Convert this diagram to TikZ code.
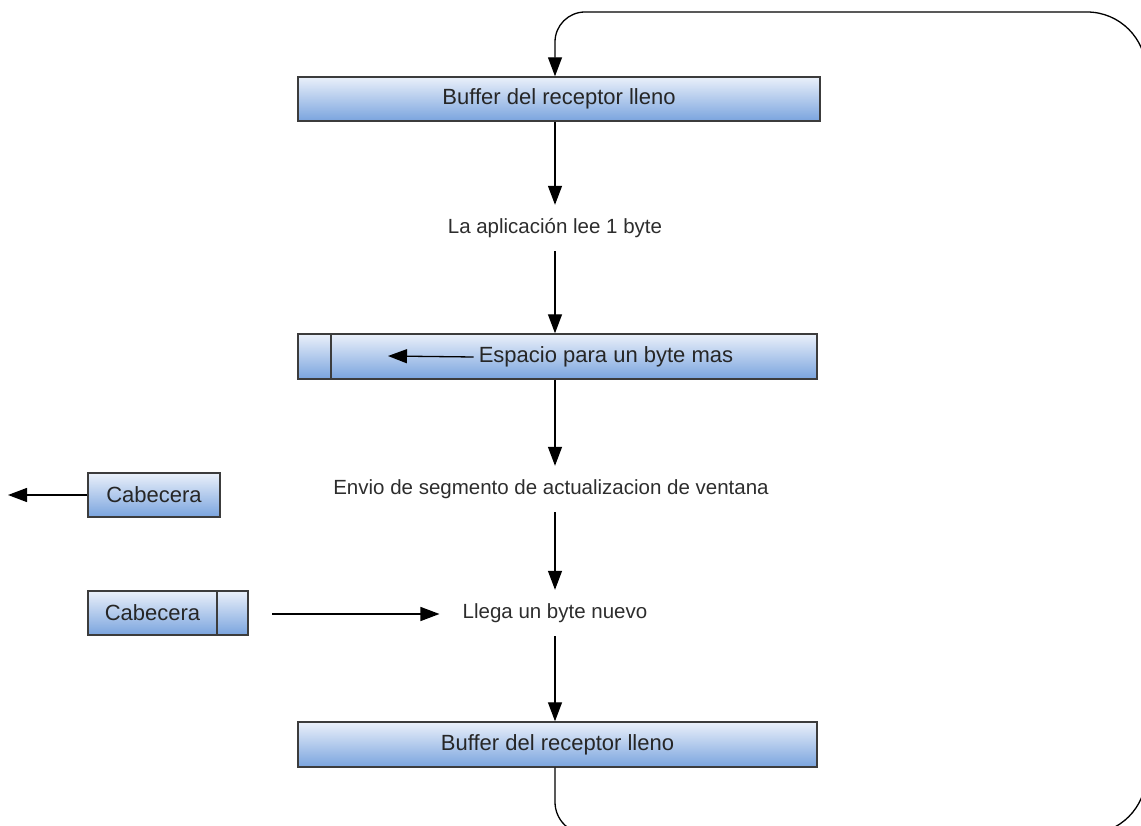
\documentclass[tikz,border=0pt]{standalone}
\usepackage{fontspec}
\setmainfont{Liberation Sans}
\usetikzlibrary{arrows.meta,calc}

\definecolor{boxtop}{RGB}{234,240,250}
\definecolor{boxbot}{RGB}{122,164,222}
\definecolor{boxline}{RGB}{60,60,60}
\definecolor{lbl}{RGB}{45,45,45}

\tikzset{
  bufbox/.style={draw=boxline, line width=1.4pt, top color=boxtop, bottom color=boxbot,
    minimum height=44pt, inner sep=0pt, font=\fontsize{22pt}{24pt}\selectfont, text=black!85},
  steplabel/.style={inner sep=0pt, minimum height=46pt, text=lbl,
    font=\fontsize{20.5pt}{22pt}\selectfont},
  flow/.style={line width=1.3pt, -{Triangle[length=19pt,width=14pt]}},
  loopline/.style={line width=1.3pt}
}

\begin{document}
\begin{tikzpicture}[x=1pt,y=-1pt]
\useasboundingbox (0,0) rectangle (1141,826);

% main column
\node[bufbox, minimum width=522pt] (b1) at (559,99) {Buffer del receptor lleno};
\node[steplabel] (l1) at (555,228) {La aplicación lee 1 byte};

\node[bufbox, minimum width=33pt, minimum height=45pt] (b2a) at (314.5,356.5) {};
\node[bufbox, minimum width=486pt, minimum height=45pt] (b2b) at (574,356.5) {};
\node[inner sep=0pt, font=\fontsize{22pt}{24pt}\selectfont, text=black!85] (b2t) at (606,357) {Espacio para un byte mas};
\coordinate (b2arr) at (388,356);
\draw[flow] ([xshift=-5pt]b2t.west) -- (b2arr);

\node[steplabel] (l2) at (551,489) {Envio de segmento de actualizacion de ventana};
\node[steplabel] (l3) at (555,613) {Llega un byte nuevo};
\node[bufbox, minimum width=519pt, minimum height=45pt] (b3) at (557.5,744.5) {Buffer del receptor lleno};

\draw[flow] (b1.south -| l1.north) -- (l1.north);
\draw[flow] (l1.south) -- (l1.south |- b2b.north);
\draw[flow] (l1.south |- b2b.south) -- (l2.north -| l1.south);
\draw[flow] (l2.south -| l1.south) -- (l3.north);
\draw[flow] (l3.south) -- (l3.south |- b3.north);

% segments on the left
\node[bufbox, minimum width=132pt] (c1) at (154,495) {Cabecera};
\coordinate (c1out) at (8,495);
\draw[flow] (c1.west) -- (c1out);

\node[bufbox, minimum width=129pt] (c2a) at (152.5,613) {Cabecera};
\node[bufbox, minimum width=31pt] (c2b) at (232.5,613) {};
\coordinate (c2src) at (272,614);
\draw[flow] (c2src) -- ([xshift=-23pt]l3.west |- c2src);

% loop back from the last buffer to the first
\begin{scope}
\clip (0,0) rectangle (1141,826);
\coordinate (lbl) at (555,834);
\coordinate (lbr) at (1146,834);
\coordinate (ltr) at (1146,12);
\coordinate (ltl) at (555,12);
\draw[loopline, -{Triangle[length=19pt,width=14pt]}]
  (b3.south -| l3.south) [rounded corners=32pt] -- (lbl) [rounded corners=59pt] -- (lbr) -- (ltr)
  [rounded corners=30pt] -- (ltl) -- (b1.north -| l1.north);
\end{scope}
\end{tikzpicture}
\end{document}
